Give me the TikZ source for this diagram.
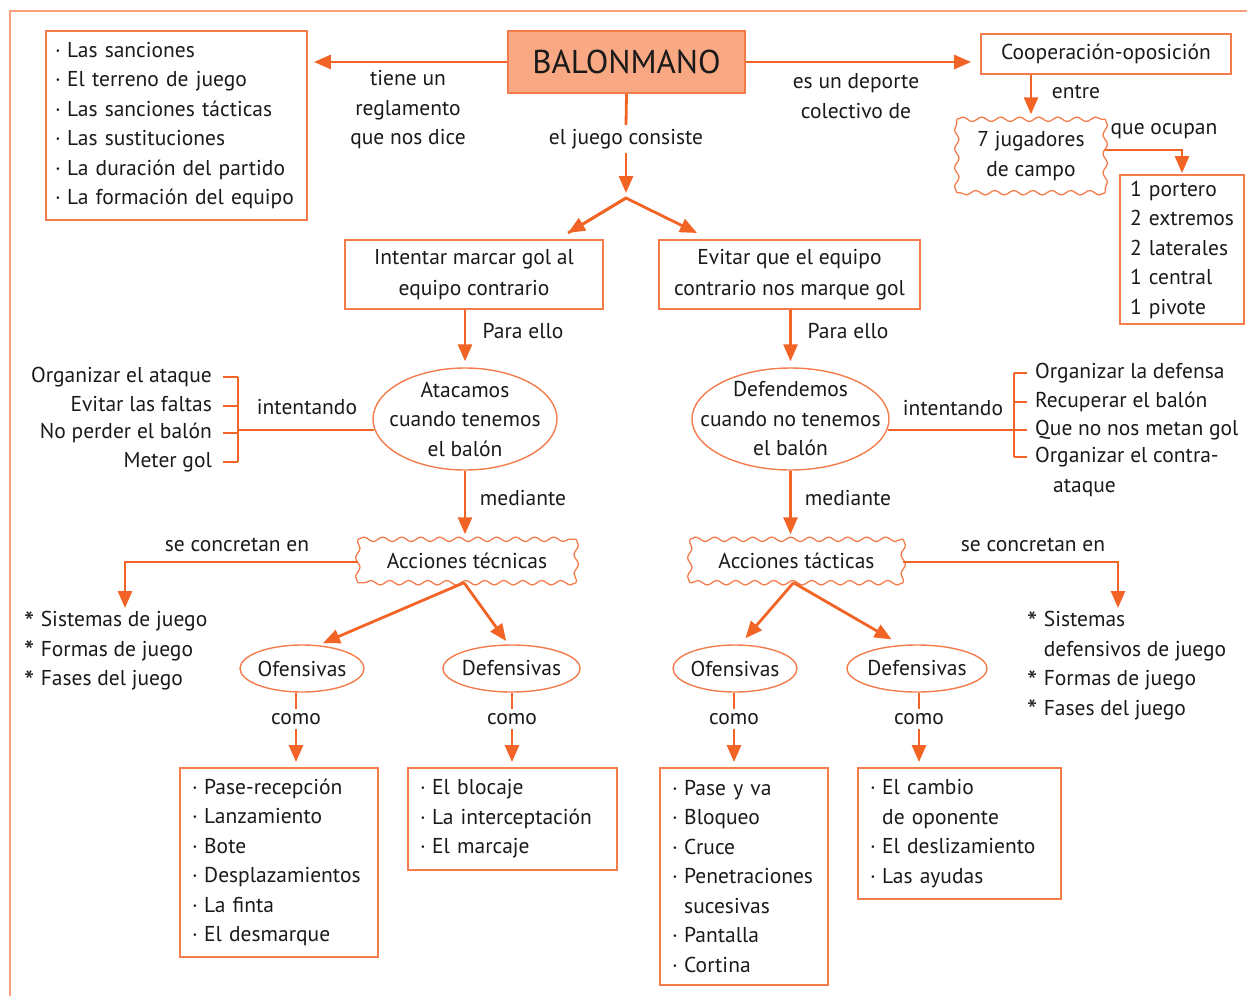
\documentclass[tikz,border=0pt]{standalone}
\usepackage{fontspec}
\setmainfont{PT Sans}
\usetikzlibrary{arrows.meta,shapes.geometric,decorations.pathmorphing,calc}
\definecolor{arrowC}{HTML}{F26426}
\definecolor{boxC}{HTML}{F47C4C}
\definecolor{frameC}{HTML}{F8A07C}
\definecolor{titleC}{HTML}{F8A882}
\definecolor{inkC}{HTML}{1A1A1A}
\newcommand\itm{·\hspace{0.3em}}
\newcommand\ind{\hphantom{·\hspace{0.3em}}}
\newcommand\stari{\raisebox{-0.55ex}{\fontsize{29}{29}\selectfont *}\hspace{0.3em}}
\tikzset{
  every node/.style={text=inkC, font=\fontsize{21.5}{29.5}\selectfont},
  box/.style={draw=boxC, line width=1.8pt, rectangle, inner sep=0pt, align=center},
  listbox/.style={draw=boxC, line width=1.8pt, rectangle, inner ysep=0pt, inner xsep=12pt, align=left},
  oval/.style={draw=boxC, line width=1.4pt, ellipse, inner sep=0pt},
  wavy/.style={rectangle, inner sep=0pt, align=center},
  wavyline/.style={draw=boxC, line width=1.3pt,
    decorate, decoration={snake, segment length=19pt, amplitude=2.2pt}},
  lbl/.style={inner sep=2pt, align=center},
  item/.style={inner sep=2pt, text height=15pt, text depth=5pt},
  arr/.style={draw=arrowC, line width=2.8pt, -{Triangle[length=17pt,width=14pt]}},
  link/.style={draw=arrowC, line width=2.8pt},
  brk/.style={draw=arrowC, line width=2.6pt},
}
\begin{document}
\begin{tikzpicture}[x=1pt,y=-1pt]
\useasboundingbox (0,0) rectangle (1247,996);
% page frame
\draw[frameC, line width=2pt] (10,996) -- (10,11) -- (1247,11);

% ---- top row
\node[box, fill=titleC, minimum width=237pt, minimum height=62pt,
      font=\fontsize{33}{38}\selectfont] (bal) at (626.5,62) {BALONMANO};
\node[listbox, inner xsep=9pt, text width=243pt, minimum height=189pt] (rules) at (176.5,125.5)
  {\itm Las sanciones\\\itm El terreno de juego\\\itm Las sanciones tácticas\\
   \itm Las sustituciones\\\itm La duración del partido\\\itm La formación del equipo};
\node[box, minimum width=250pt, minimum height=40pt] (coop) at (1106,54) {Cooperación-oposición};
\node[wavy, minimum width=148pt, minimum height=73pt] (jug) at (1031,156) {7 jugadores\\de campo};
\node[listbox, inner xsep=10pt, text width=104pt, minimum height=149pt] (port) at (1182,249.5)
  {1 portero\\2 extremos\\2 laterales\\1 central\\1 pivote};

\node[lbl] (lreg) at (408,110) {tiene un\\reglamento\\que nos dice};
\node[lbl] (ldep) at (856,96) {es un deporte\\colectivo de};
\node[lbl] (lent) at (1076,92) {entre};
\node[lbl] (locu) at (1164,131) {que ocupan};

\draw[arr, shorten >=6pt] (bal.west) -- (rules.east |- bal.west);
\draw[arr, shorten >=9pt] (bal.east) -- (coop.west |- bal.east);
\draw[arr, shorten >=5pt] (coop.south -| jug.north) -- (jug.north);
\draw[arr, shorten >=1pt] ([yshift=6pt]jug.east) -| (port.north);

% ---- el juego consiste
\node[lbl, inner ysep=4pt] (cons) at (626,139) {el juego consiste};
\coordinate (fork) at (626,198);
\coordinate (fl) at (568,233);
\coordinate (fr) at (697,233);
\draw[link] (bal.south) -- (cons.north);
\draw[arr, shorten >=5pt] (cons.south) -- (fork);
\draw[arr, line join=miter] (fl) -- (fork) -- (fr);
\draw[arr] (fork) -- (fl);

\node[box, minimum width=258pt, minimum height=69pt, font=\fontsize{21.5}{31}\selectfont] (int) at (474,274.5)
  {Intentar marcar gol al\\equipo contrario};
\node[box, minimum width=261pt, minimum height=69pt, font=\fontsize{21.5}{31}\selectfont] (evi) at (789.5,274.5)
  {Evitar que el equipo\\contrario nos marque gol};

\node[lbl] at (523,331) (pe1) {Para ello};
\node[lbl] at (848,331) (pe2) {Para ello};

\node[oval, minimum width=184pt, minimum height=102pt] (ata) at (465,419) {};
\node[lbl] (atat) at (ata.center) {Atacamos\\cuando tenemos\\el balón};
\node[oval, minimum width=197pt, minimum height=102pt] (def) at (790.5,419) {};
\node[lbl] (deft) at (def.center) {Defendemos\\cuando no tenemos\\el balón};

\draw[arr, shorten >=6pt] (int.south -| ata.north) -- (ata.north);
\draw[arr, shorten >=6pt] (evi.south -| def.north) -- (def.north);

% ---- left bracket
\node[item, anchor=east] (o1) at (214,377) {Organizar el ataque};
\node[item, anchor=east] (o2) at (214,406) {Evitar las faltas};
\node[item, anchor=east] (o3) at (214,433) {No perder el balón};
\node[item, anchor=east] (o4) at (214,462) {Meter gol};
\node[lbl] (int1) at (307,407) {intentando};
\coordinate (lsp) at (238,430);
\foreach \i in {1,...,4} \draw[brk] ([xshift=9pt]o\i.east) -- (o\i.east -| lsp);
\draw[brk] (o1.east -| lsp) -- (o4.east -| lsp);
\draw[brk] (lsp) -- ([xshift=2pt]ata.west |- lsp);

% ---- right bracket
\node[item, anchor=west] (r1) at (1033,373) {Organizar la defensa};
\node[item, anchor=west] (r2) at (1033,402) {Recuperar el balón};
\node[item, anchor=west] (r3) at (1033,430) {Que no nos metan gol};
\node[item, anchor=west] (r4) at (1033,457) {Organizar el contra-};
\node[item, anchor=west] (r5) at (1051,487) {ataque};
\node[lbl] (int2) at (953,408) {intentando};
\coordinate (rsp) at (1014,430);
\foreach \i in {1,...,4} \draw[brk] ([xshift=-6pt]r\i.west) -- (r\i.west -| rsp);
\draw[brk] (r1.west -| rsp) -- (r4.west -| rsp);
\draw[brk] (rsp) -- ([xshift=-2pt]def.east |- rsp);

% ---- mediante
\node[lbl] (me1) at (523,498) {mediante};
\node[lbl] (me2) at (848,498) {mediante};
\node[wavy, minimum width=218pt, minimum height=43pt] (tec) at (467,561) {Acciones técnicas};
\node[wavy, minimum width=213pt, minimum height=43pt] (tac) at (796.5,561) {Acciones tácticas};
\draw[arr, shorten >=5pt] (ata.south) -- (ata.south |- tec.north);
\draw[arr, shorten >=5pt] (def.south) -- (def.south |- tac.north);

% wavy outlines of the cloud boxes, one side at a time
\foreach \n in {jug,tec,tac}{
  \draw[wavyline] (\n.north west) -- (\n.north east);
  \draw[wavyline] (\n.north east) -- (\n.south east);
  \draw[wavyline] (\n.south east) -- (\n.south west);
  \draw[wavyline] (\n.south west) -- (\n.north west);
}

% ---- se concretan en
\node[lbl] (sc1) at (237,545) {se concretan en};
\node[lbl] (sc2) at (1033,545) {se concretan en};
\node[lbl, align=left, anchor=north west] (lsis) at (22,609)
  {\stari Sistemas de juego\\\stari Formas de juego\\\stari Fases del juego};
\node[lbl, align=left, anchor=north west] (rsis) at (1025,609)
  {\stari Sistemas\\\hphantom{\stari}defensivos de juego\\\stari Formas de juego\\\stari Fases del juego};
\coordinate (lc) at (125,562);
\coordinate (rc) at (1118,562);
\draw[arr, shorten >=1pt] (tec.west |- lc) -- (lc) -- (lc |- lsis.north);
\draw[arr, shorten >=1pt] (tac.east |- rc) -- (rc) -- (rc |- rsis.north);

% ---- ofensivas / defensivas
\node[oval, minimum width=124pt, minimum height=47pt] (ofe1) at (302,668.5) {};
\node[lbl] at (ofe1.center) {Ofensivas};
\node[oval, minimum width=137pt, minimum height=47pt] (def1) at (511.5,668.5) {};
\node[lbl] at (def1.center) {Defensivas};
\node[oval, minimum width=124pt, minimum height=47pt] (ofe2) at (735,668.5) {};
\node[lbl] at (ofe2.center) {Ofensivas};
\node[oval, minimum width=140pt, minimum height=47pt] (def2) at (917,668.5) {};
\node[lbl] at (def2.center) {Defensivas};

\draw[arr, shorten >=5pt] ([xshift=-3pt]tec.south) -- (ofe1.55);
\draw[arr, shorten >=4pt] ([xshift=-3pt]tec.south) -- (def1.97);
\draw[arr, shorten >=8pt] ([xshift=-3pt]tac.south) -- (ofe2.78);
\draw[arr, shorten >=11pt] ([xshift=-3pt]tac.south) -- (def2.124);

% ---- bottom lists
\node[listbox, text width=174pt, minimum height=189pt] (bA) at (279,862.5)
  {\itm Pase-recepción\\\itm Lanzamiento\\\itm Bote\\\itm Desplazamientos\\\itm La finta\\\itm El desmarque};
\node[listbox, text width=185pt, minimum height=102pt] (bB) at (512.5,819)
  {\itm El blocaje\\\itm La interceptación\\\itm El marcaje};
\node[listbox, text width=144pt, minimum height=217pt] (bC) at (744,876.5)
  {\itm Pase y va\\\itm Bloqueo\\\itm Cruce\\\itm Penetraciones\\\ind sucesivas\\\itm Pantalla\\\itm Cortina};
\node[listbox, text width=179pt, minimum height=131pt] (bD) at (959.5,833.5)
  {\itm El cambio\\\ind de oponente\\\itm El deslizamiento\\\itm Las ayudas};

\node[lbl, inner ysep=4pt] (c1) at (296,719) {como};
\node[lbl, inner ysep=4pt] (c2) at (512,719) {como};
\node[lbl, inner ysep=4pt] (c3) at (734,719) {como};
\node[lbl, inner ysep=4pt] (c4) at (919,719) {como};
\draw[link] (ofe1.south -| c1) -- (c1.north);
\draw[link] (def1.south -| c2) -- (c2.north);
\draw[link] (ofe2.south -| c3) -- (c3.north);
\draw[link] (def2.south -| c4) -- (c4.north);
\draw[arr, shorten >=5pt] (c1.south) -- (c1.south |- bA.north);
\draw[arr, shorten >=5pt] (c2.south) -- (c2.south |- bB.north);
\draw[arr, shorten >=5pt] (c3.south) -- (c3.south |- bC.north);
\draw[arr, shorten >=5pt] (c4.south) -- (c4.south |- bD.north);
\end{tikzpicture}
\end{document}
